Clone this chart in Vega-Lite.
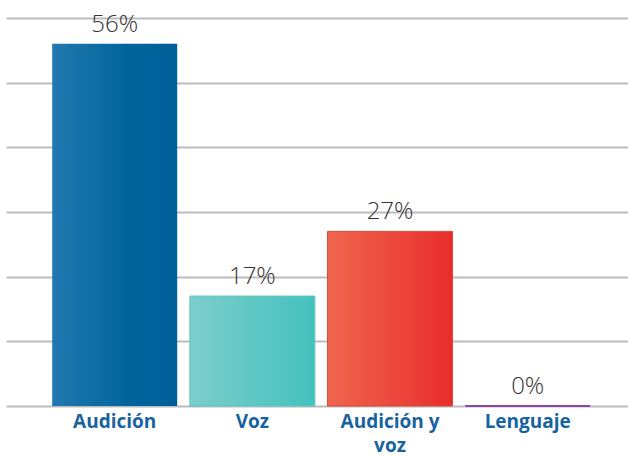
{
  "$schema": "https://vega.github.io/schema/vega-lite/v6.json",
  "width": 622,
  "height": 388,
  "autosize": {"type": "none"},
  "padding": {"left": 6, "top": 18, "right": 0, "bottom": 50},
  "background": "white",
  "config": {"view": {"stroke": null}},
  "data": {"values": [
    {"cat": "Audición", "pct": 56, "label": "56%"},
    {"cat": "Voz", "pct": 17, "label": "17%"},
    {"cat": "Audición y voz", "pct": 27, "label": "27%"},
    {"cat": "Lenguaje", "pct": 0, "label": "0%"}
  ]},
  "encoding": {
    "x": {
      "field": "cat", "type": "nominal", "sort": null,
      "scale": {"paddingInner": 0.092, "paddingOuter": 0.305, "align": 0.55},
      "axis": {
        "title": null, "labelAngle": 0, "domain": false, "ticks": false,
        "labelPadding": 6, "labelFont": "Open Sans", "labelFontWeight": "bold",
        "labelFontSize": 19, "labelColor": "#1763a0", "labelLineHeight": 24,
        "labelExpr": "datum.label == 'Audición y voz' ? ['Audición y', 'voz'] : datum.label"
      }
    },
    "y": {
      "field": "pct", "type": "quantitative",
      "scale": {"domain": [0, 60], "nice": false},
      "axis": {
        "title": null, "labels": false, "ticks": false, "domain": false,
        "values": [0, 10, 20, 30, 40, 50, 60],
        "gridColor": "#bcbcbf", "gridWidth": 2, "gridOpacity": 1
      }
    }
  },
  "layer": [
    {
      "transform": [{"filter": "datum.cat == 'Audición'"}],
      "mark": {"type": "bar", "fill": {"gradient": "linear", "x1": 0, "y1": 0, "x2": 1, "y2": 0,
        "stops": [{"offset": 0, "color": "#2179b0"}, {"offset": 0.6, "color": "#03649c"}, {"offset": 1, "color": "#005e98"}]}}
    },
    {
      "transform": [{"filter": "datum.cat == 'Voz'"}],
      "mark": {"type": "bar", "stroke": "#5ec6c3", "strokeWidth": 1, "fill": {"gradient": "linear", "x1": 0, "y1": 0, "x2": 1, "y2": 0,
        "stops": [{"offset": 0, "color": "#7ccdcc"}, {"offset": 1, "color": "#44c2bd"}]}}
    },
    {
      "transform": [{"filter": "datum.cat == 'Audición y voz'"}],
      "mark": {"type": "bar", "stroke": "#d9493a", "strokeWidth": 1, "fill": {"gradient": "linear", "x1": 0, "y1": 0, "x2": 1, "y2": 0,
        "stops": [{"offset": 0, "color": "#f0664e"}, {"offset": 1, "color": "#e92c2d"}]}}
    },
    {
      "transform": [{"filter": "datum.cat == 'Lenguaje'"}],
      "mark": {"type": "bar", "fill": "#8e44a0", "stroke": "#8e44a0", "strokeWidth": 2}
    },
    {
      "mark": {"type": "text", "baseline": "alphabetic", "dy": -12, "font": "Open Sans", "fontSize": 24, "fontWeight": 300, "color": "#333333"},
      "encoding": {"text": {"field": "label"}}
    }
  ]
}
